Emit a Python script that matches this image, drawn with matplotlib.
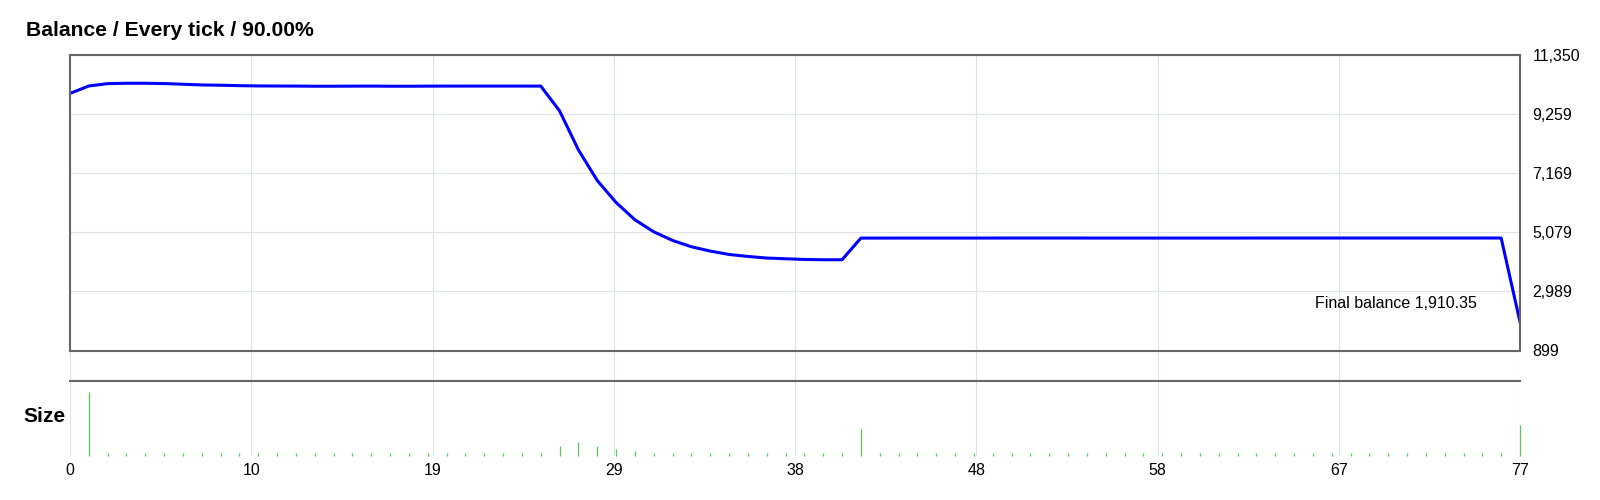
import matplotlib.pyplot as plt

# balance after each trade (index = trade number)
balance = [10000, 10264, 10347, 10360, 10360, 10350, 10325, 10300, 10290, 10275,
           10265, 10262, 10260, 10255, 10255, 10258, 10260, 10255, 10255, 10258,
           10260, 10260, 10260, 10260, 10260, 10260, 9380, 8001, 6916, 6138,
           5526, 5101, 4795, 4571, 4419, 4299, 4229, 4172, 4147, 4122,
           4112, 4112, 4879, 4879, 4880, 4880, 4880, 4880, 4880, 4880,
           4881, 4881, 4881, 4881, 4880, 4880, 4880, 4880, 4880, 4880,
           4880, 4880, 4880, 4881, 4881, 4881, 4881, 4881, 4881, 4881,
           4881, 4881, 4881, 4881, 4881, 4881, 4881, 1910.35]

# position size per trade
sizes = [0.0, 1.0, 0.05, 0.05, 0.05, 0.05, 0.05, 0.05, 0.05, 0.05,
         0.05, 0.05, 0.05, 0.05, 0.05, 0.05, 0.05, 0.05, 0.05, 0.05,
         0.05, 0.05, 0.05, 0.05, 0.05, 0.05, 0.16, 0.22, 0.15, 0.10,
         0.07, 0.05, 0.05, 0.05, 0.05, 0.05, 0.05, 0.05, 0.05, 0.05,
         0.05, 0.05, 0.42, 0.05, 0.05, 0.05, 0.05, 0.05, 0.05, 0.05,
         0.05, 0.05, 0.05, 0.05, 0.05, 0.05, 0.05, 0.05, 0.05, 0.05,
         0.05, 0.05, 0.05, 0.05, 0.05, 0.05, 0.05, 0.05, 0.05, 0.05,
         0.05, 0.05, 0.05, 0.05, 0.05, 0.05, 0.05, 0.49]

trades = list(range(len(balance)))

x_ticks = [0, 9.625, 19.25, 28.875, 38.5, 48.125, 57.75, 67.375, 77]
x_labels = ['0', '10', '19', '29', '38', '48', '58', '67', '77']
y_ticks = [899, 2989.2, 5079.4, 7169.6, 9259.8, 11350]
y_labels = ['899', '2,989', '5,079', '7,169', '9,259', '11,350']

plt.rcParams['font.family'] = ['Liberation Sans', 'DejaVu Sans']

fig = plt.figure(figsize=(16, 5), dpi=100)
border = '#666666'
grid = '#dfe2ea'

# background axes: vertical grid running through both panels
axg = fig.add_axes([0.04375, 0.0886, 0.90625, 0.8008])
axg.set_xlim(0, 77)
axg.set_ylim(0, 1)
axg.set_xticks(x_ticks)
axg.set_xticklabels(x_labels, fontsize=11.5)
axg.set_yticks([])
axg.tick_params(axis='x', length=0, pad=5.5)
axg.grid(axis='x', color=grid, lw=0.8)
for s in axg.spines.values():
    s.set_visible(False)

# balance panel
ax1 = fig.add_axes([0.04375, 0.299, 0.90625, 0.5904])
ax1.patch.set_alpha(0)
ax1.plot(trades, balance, color='#0000ff', lw=2.2, solid_joinstyle='round')
ax1.set_xlim(0, 77)
ax1.set_ylim(899, 11350)
ax1.set_xticks([])
ax1.set_yticks(y_ticks)
ax1.set_yticklabels(y_labels, fontsize=11.5)
ax1.yaxis.tick_right()
ax1.tick_params(axis='y', length=0, pad=9)
ax1.grid(axis='y', color=grid, lw=0.8)
for s in ax1.spines.values():
    s.set_color(border)
    s.set_linewidth(1.5)
ax1.annotate('Final balance 1,910.35', xy=(trades[-1], balance[-1]),
             xytext=(-43, 18), textcoords='offset pixels',
             ha='right', va='center', fontsize=11.5)

# size panel
ax2 = fig.add_axes([0.04375, 0.0886, 0.90625, 0.15])
ax2.patch.set_alpha(0)
ax2.vlines(trades, 0, sizes, color='#55cc55', lw=0.9, clip_on=False)
ax2.set_xlim(0, 77)
ax2.set_ylim(0, 1.183)
ax2.set_xticks([])
ax2.set_yticks([])
for name, s in ax2.spines.items():
    if name == 'top':
        s.set_color(border)
        s.set_linewidth(1.5)
    else:
        s.set_visible(False)

fig.text(0.016, 0.94, 'Balance / Every tick / 90.00%', fontsize=15.2,
         fontweight='bold', ha='left', va='center')
fig.text(0.0144, 0.166, 'Size', fontsize=15, fontweight='bold',
         ha='left', va='center')

fig.savefig('out.png', dpi=100)
